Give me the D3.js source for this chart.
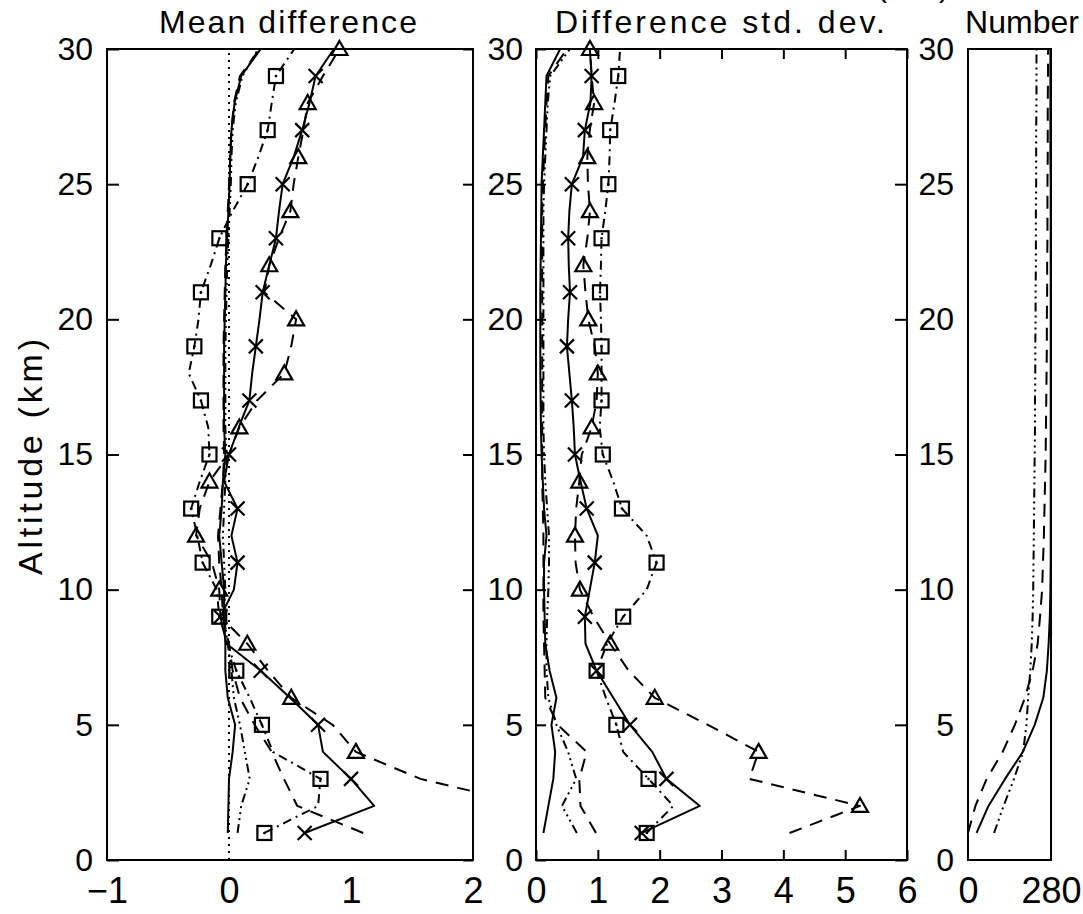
<!DOCTYPE html>
<html><head><meta charset="utf-8">
<script src="https://cdn.jsdelivr.net/npm/d3@7"></script>
<style>body{margin:0;background:#fff}svg{display:block}</style>
</head><body>
<svg id="chart" width="1083" height="914"></svg>
<script>
// ---------- DATA (altitude 1..30 km) ----------
const altitudes = d3.range(1, 31);

// Mean difference panel
const meanCross    = [0.62,1.19,1.0,0.77,0.73,0.5,0.26,-0.02,-0.07,0.04,0.07,0.02,0.07,-0.04,0.0,0.08,0.167,0.19,0.22,0.25,0.276,0.33,0.385,0.41,0.44,0.53,0.60,0.66,0.71,0.86];
const meanTriangle = [null,2.5,1.57,1.04,0.85,0.51,0.32,0.15,-0.07,-0.08,-0.14,-0.27,-0.24,-0.16,0.0,0.085,0.23,0.453,0.51,0.55,0.29,0.33,0.41,0.503,0.53,0.568,0.61,0.645,0.77,0.905];
const meanSquare   = [0.29,0.73,0.75,0.36,0.27,0.17,0.06,-0.01,-0.08,-0.1,-0.216,-0.26,-0.31,-0.24,-0.16,-0.17,-0.23,-0.33,-0.284,-0.25,-0.23,-0.15,-0.079,0.03,0.153,0.24,0.317,0.35,0.385,0.535];
const meanSolid    = [-0.01,-0.005,0.0,0.03,0.05,-0.01,-0.03,-0.03,-0.04,-0.04,-0.06,-0.08,-0.06,-0.05,-0.03,-0.04,-0.04,-0.04,-0.04,-0.035,-0.03,-0.025,-0.015,-0.005,0.005,0.01,0.02,0.045,0.1,0.26];
const meanDashDot  = [0.07,0.1,0.17,0.13,0.09,0.04,0.02,-0.01,-0.04,-0.03,-0.04,-0.05,-0.04,-0.03,-0.02,-0.03,-0.03,-0.03,-0.03,-0.025,-0.02,-0.015,-0.005,0.005,0.015,0.02,0.03,0.055,0.11,0.24];
const meanDashed   = [1.1,0.56,0.45,0.35,0.21,0.09,0.03,0.0,-0.05,-0.06,-0.08,-0.09,-0.07,-0.05,-0.04,-0.045,-0.045,-0.045,-0.045,-0.04,-0.035,-0.03,-0.02,-0.01,0.0,0.01,0.02,0.04,0.09,0.25];

// Difference std. dev. panel
const sdCross    = [1.71,2.65,2.11,1.88,1.52,1.25,0.98,0.8,0.79,0.87,0.95,1.0,0.82,0.72,0.63,0.61,0.58,0.54,0.50,0.52,0.55,0.53,0.52,0.54,0.58,0.76,0.79,0.88,0.90,0.87];
const sdTriangle = [4.1,5.24,3.45,3.6,2.78,1.92,1.5,1.2,0.93,0.71,0.64,0.63,0.65,0.70,0.74,0.90,0.98,1.0,0.95,0.846,0.8,0.765,0.83,0.873,0.84,0.83,0.87,0.94,0.9,0.873];
const sdSquare   = [1.79,2.22,1.82,1.41,1.3,1.13,0.98,1.15,1.41,1.79,1.95,1.79,1.39,1.25,1.08,1.03,1.06,1.06,1.06,1.05,1.035,1.05,1.06,1.12,1.17,1.19,1.2,1.27,1.33,1.36];
const sdSolid    = [0.12,0.2,0.28,0.31,0.25,0.33,0.22,0.15,0.14,0.13,0.13,0.17,0.13,0.11,0.09,0.08,0.075,0.07,0.07,0.07,0.07,0.075,0.08,0.085,0.09,0.11,0.13,0.15,0.17,0.39];
const sdDashDot  = [0.66,0.42,0.65,0.52,0.33,0.2,0.17,0.17,0.18,0.2,0.21,0.21,0.18,0.15,0.13,0.12,0.12,0.12,0.12,0.12,0.12,0.12,0.12,0.12,0.13,0.15,0.17,0.19,0.23,0.55];
const sdDashed   = [0.97,0.72,0.7,0.82,0.35,0.15,0.14,0.13,0.12,0.12,0.12,0.12,0.11,0.1,0.1,0.1,0.1,0.1,0.1,0.1,0.1,0.1,0.1,0.1,0.11,0.13,0.15,0.17,0.2,0.5];

// Number panel
const numSolid   = [29,69,125,185,225,254,266,272,276,278,279,279,279,279,279,279,279,279,279,279,279,279,279,279,279,278,278,278,278,278];
const numDashed  = [0,25,63,117,158,192,218,235,243,250,253,256,258,260,262,263,264,265,266,266,267,267,268,268,268,269,269,269,270,270];
const numDashDot = [88,120,155,186,197,203,210,215,218,220,221,222,223,224,225,226,226,227,227,228,228,229,229,229,230,230,230,231,231,231];

// Axes / labels
const yTicks = [0,5,10,15,20,25,30];
const meanXTicks = [-1,0,1,2];
const sdXTicks = [0,1,2,3,4,5,6];
const numXTicks = [0,280];
const panelTitles = ["Mean difference","Difference std. dev.","Number"];
const yAxisTitle = "Altitude (km)";

// ---------- DRAWING ----------
const FONT = "'Liberation Sans', Arial, Helvetica, sans-serif";
const svg = d3.select("#chart");
svg.append("rect").attr("width",1083).attr("height",914).attr("fill","#fff");

const y = d3.scaleLinear().domain([0,30]).range([860,49]);
const DASH = "13,9", DASHDOT = "9,5,2,5", DASH3DOT = "9,4,2,4,2,4,2,4", DOT = "2,5";
const intFmt = d3.format("d");

function toPts(vals){ return altitudes.map((a,i)=>({alt:a, v:vals[i]})); }

function drawPanel(id, x, series){
  const x0 = x.range()[0], x1 = x.range()[1];
  svg.append("clipPath").attr("id","clip"+id)
     .append("rect").attr("x",x0).attr("y",y(30)).attr("width",x1-x0).attr("height",y(0)-y(30));
  const g = svg.append("g");
  const lines = g.append("g").attr("clip-path",`url(#clip${id})`);
  const line = d3.line().defined(d=>d.v!=null).x(d=>x(d.v)).y(d=>y(d.alt));
  series.forEach(s=>{
    const pts = toPts(s.values);
    lines.append("path").datum(pts).attr("d",line)
      .attr("fill","none").attr("stroke","#000").attr("stroke-width",s.width||2)
      .attr("stroke-dasharray",s.dash||null).attr("stroke-linejoin","round");
    if(s.marker){
      const [dmin,dmax] = x.domain();
      const mk = pts.filter(d=>d.v!=null && d.alt%2===s.parity && d.v>=dmin && d.v<=dmax);
      const m = g.append("g").selectAll("g").data(mk).join("g")
        .attr("transform",d=>`translate(${x(d.v)},${y(d.alt)})`)
        .attr("fill","none").attr("stroke","#000").attr("stroke-width",2.2);
      if(s.marker==="cross") m.append("path").attr("d","M-7,-7L7,7M-7,7L7,-7");
      if(s.marker==="triangle") m.append("path").attr("d","M0,-8L8,6L-8,6Z");
      if(s.marker==="square"){
        m.append("rect").attr("x",-7).attr("y",-7).attr("width",14).attr("height",14);
        m.append("circle").attr("r",1.3).attr("fill","#000").attr("stroke","none");
      }
    }
  });
  g.append("rect").attr("x",x0).attr("y",y(30)).attr("width",x1-x0).attr("height",y(0)-y(30))
    .attr("fill","none").attr("stroke","#000").attr("stroke-width",2);
  return g;
}

function styleAxis(g, size){
  g.select(".domain").remove();
  g.attr("font-family",FONT).attr("font-size",size);
  g.selectAll("line").attr("stroke","#000").attr("stroke-width",2);
  g.selectAll("text").attr("fill","#000");
}

// Panel 1: mean difference
const xMean = d3.scaleLinear().domain([-1,2]).range([107,473]);
drawPanel("m", xMean, [
  {values: meanSolid},
  {values: meanDashDot, dash: DASH3DOT},
  {values: meanDashed, dash: DASH},
  {values: meanCross, marker:"cross", parity:1},
  {values: meanTriangle, dash: DASH, marker:"triangle", parity:0},
  {values: meanSquare, dash: DASHDOT, marker:"square", parity:1}
]);
// zero reference (dotted)
svg.append("line").attr("x1",xMean(0)).attr("x2",xMean(0)).attr("y1",y(0)).attr("y2",y(30))
  .attr("stroke","#000").attr("stroke-width",2).attr("stroke-dasharray",DOT);

svg.append("g").attr("transform",`translate(${xMean(-1)},0)`)
  .call(d3.axisLeft(y).tickValues(yTicks).tickSize(-12).tickPadding(14)).call(g=>styleAxis(g,32));
svg.append("g").attr("transform",`translate(${xMean(2)},0)`)
  .call(d3.axisRight(y).tickValues(yTicks).tickSize(-10).tickFormat("")).call(g=>styleAxis(g,32));
svg.append("g").attr("transform",`translate(0,${y(0)})`)
  .call(d3.axisBottom(xMean).tickValues(meanXTicks).tickSize(0).tickPadding(17).tickFormat(d=>d<0?"\u2212"+Math.abs(d):intFmt(d)))
  .call(g=>styleAxis(g,36));

// Panel 2: std dev
const xSd = d3.scaleLinear().domain([0,6]).range([536,907]);
drawPanel("s", xSd, [
  {values: sdSolid},
  {values: sdDashDot, dash: DASH3DOT},
  {values: sdDashed, dash: DASH},
  {values: sdCross, marker:"cross", parity:1},
  {values: sdTriangle, dash: DASH, marker:"triangle", parity:0},
  {values: sdSquare, dash: DASHDOT, marker:"square", parity:1}
]);
svg.append("g").attr("transform",`translate(${xSd(0)},0)`)
  .call(d3.axisLeft(y).tickValues(yTicks).tickSize(-10).tickPadding(13)).call(g=>styleAxis(g,32));
svg.append("g").attr("transform",`translate(${xSd(6)},0)`)
  .call(d3.axisRight(y).tickValues(yTicks).tickSize(-12).tickFormat("")).call(g=>styleAxis(g,32));
svg.append("g").attr("transform",`translate(0,${y(0)})`)
  .call(d3.axisBottom(xSd).tickValues(sdXTicks).tickSize(-10).tickPadding(17).tickFormat(intFmt)).call(g=>styleAxis(g,36));
svg.append("g").attr("transform",`translate(0,${y(30)})`)
  .call(d3.axisTop(xSd).tickValues(sdXTicks).tickSize(-10).tickFormat("")).call(g=>styleAxis(g,36));

// Panel 3: number
const xNum = d3.scaleLinear().domain([0,280]).range([968,1051]);
drawPanel("n", xNum, [
  {values: numSolid},
  {values: numDashed, dash: DASH},
  {values: numDashDot, dash: DASH3DOT}
]);
svg.append("g").attr("transform",`translate(${xNum(0)},0)`)
  .call(d3.axisLeft(y).tickValues(yTicks).tickSize(0).tickPadding(14)).call(g=>styleAxis(g,32));
svg.append("g").attr("transform",`translate(0,${y(0)})`)
  .call(d3.axisBottom(xNum).tickValues(numXTicks).tickSize(0).tickPadding(17).tickFormat(intFmt)).call(g=>styleAxis(g,36));

// Titles
const titlePos = [[288,258],[720,330],[1022,null]];
panelTitles.forEach((t,i)=>{
  const tx = svg.append("text").attr("x",titlePos[i][0]).attr("y",33).attr("text-anchor","middle")
    .attr("font-family",FONT).attr("font-size",32).text(t);
  if(titlePos[i][1]) tx.attr("textLength",titlePos[i][1]).attr("lengthAdjust","spacing");
});
// cut-off upper title fragment (only its lower edge shows, as in the reference)
svg.append("text").attr("x",877).attr("y",-3).attr("font-family",FONT).attr("font-size",30)
  .attr("textLength",72).attr("lengthAdjust","spacing").text("(K)");

svg.append("text").attr("transform","translate(42,457) rotate(-90)").attr("text-anchor","middle")
  .attr("font-family",FONT).attr("font-size",34).attr("textLength",236).attr("lengthAdjust","spacing")
  .text(yAxisTitle);
</script>
</body></html>
